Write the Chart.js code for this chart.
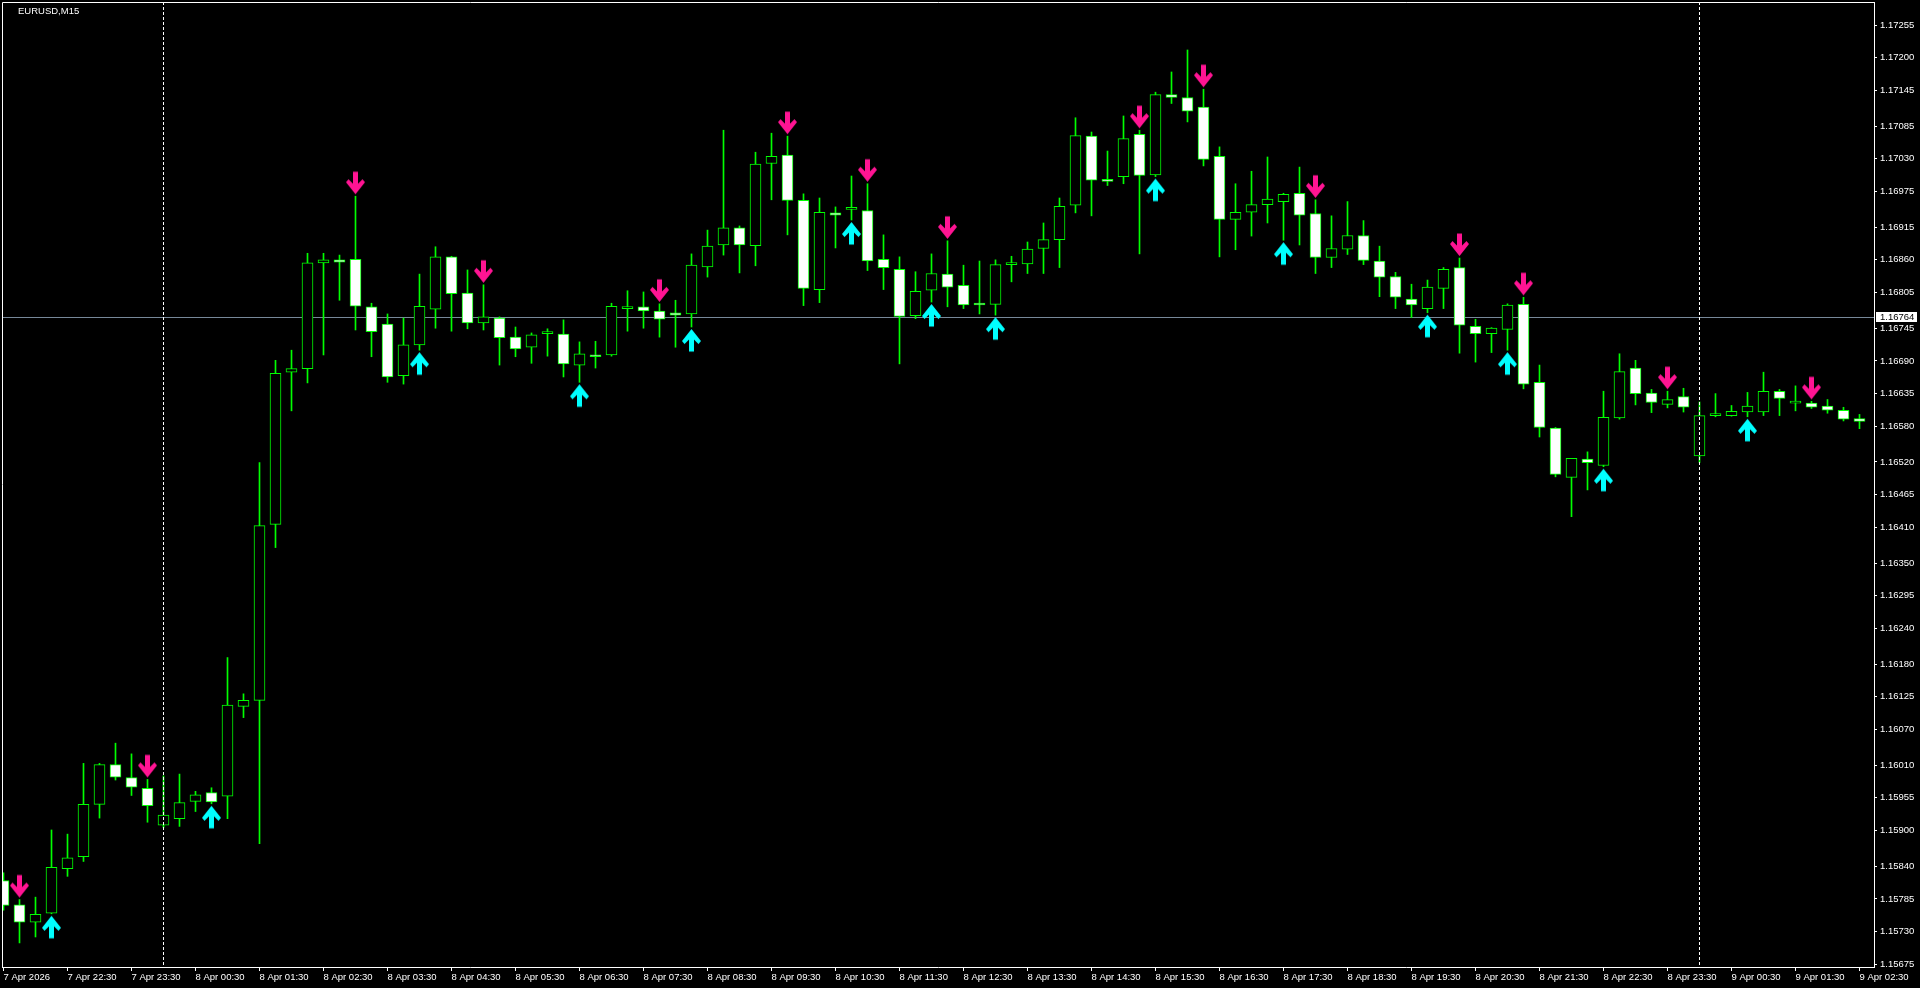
<!DOCTYPE html>
<html>
<head>
<meta charset="utf-8">
<title>EURUSD,M15</title>
<script src="https://cdn.jsdelivr.net/npm/chart.js@4/dist/chart.umd.min.js"></script>
<style>
  html, body { margin: 0; padding: 0; background: #000; }
  #wrap { position: relative; width: 1920px; height: 988px; }
</style>
</head>
<body>
<div id="wrap"><canvas id="chart"></canvas></div>
<script>
// ---------------------------
// Data (EURUSD M15)
// ---------------------------
const symbolTitle = 'EURUSD,M15';
const currentPrice = 1.16764;

const xTickLabels = [
  '7 Apr 2026', '7 Apr 22:30', '7 Apr 23:30',
  '8 Apr 00:30', '8 Apr 01:30', '8 Apr 02:30', '8 Apr 03:30', '8 Apr 04:30', '8 Apr 05:30',
  '8 Apr 06:30', '8 Apr 07:30', '8 Apr 08:30', '8 Apr 09:30', '8 Apr 10:30', '8 Apr 11:30',
  '8 Apr 12:30', '8 Apr 13:30', '8 Apr 14:30', '8 Apr 15:30', '8 Apr 16:30', '8 Apr 17:30',
  '8 Apr 18:30', '8 Apr 19:30', '8 Apr 20:30', '8 Apr 21:30', '8 Apr 22:30', '8 Apr 23:30',
  '9 Apr 00:30', '9 Apr 01:30', '9 Apr 02:30'
];

const yTickLabels = [
  1.17255, 1.17200, 1.17145, 1.17085, 1.17030, 1.16975, 1.16915, 1.16860, 1.16805, 1.16745,
  1.16690, 1.16635, 1.16580, 1.16520, 1.16465, 1.16410, 1.16350, 1.16295, 1.16240, 1.16180,
  1.16125, 1.16070, 1.16010, 1.15955, 1.15900, 1.15840, 1.15785, 1.15730, 1.15675
];

const opens = [
  1.15816, 1.15775, 1.15746, 1.15761, 1.15836, 1.15856, 1.15944, 1.16011, 1.15989, 1.15971,
  1.15909, 1.15920, 1.15949, 1.15964, 1.15958, 1.16109, 1.16119, 1.16415, 1.16671, 1.16677,
  1.16855, 1.16860, 1.16861, 1.16781, 1.16752, 1.16665, 1.16717, 1.16777, 1.16865, 1.16804,
  1.16754, 1.16762, 1.16730, 1.16713, 1.16736, 1.16735, 1.16683, 1.16700, 1.16700, 1.16778,
  1.16781, 1.16774, 1.16771, 1.16769, 1.16848, 1.16885, 1.16914, 1.16884, 1.17022, 1.17036,
  1.16960, 1.16810, 1.16939, 1.16945, 1.16943, 1.16861, 1.16844, 1.16766, 1.16809, 1.16836,
  1.16817, 1.16787, 1.16785, 1.16852, 1.16853, 1.16879, 1.16894, 1.16952, 1.17068, 1.16995,
  1.17000, 1.17071, 1.17003, 1.17138, 1.17133, 1.17117, 1.17034, 1.16928, 1.16940, 1.16953,
  1.16958, 1.16972, 1.16938, 1.16864, 1.16878, 1.16901, 1.16858, 1.16832, 1.16794, 1.16778,
  1.16812, 1.16847, 1.16748, 1.16736, 1.16743, 1.16785, 1.16654, 1.16577, 1.16494, 1.16525,
  1.16514, 1.16594, 1.16678, 1.16636, 1.16617, 1.16630, 1.16530, 1.16598, 1.16598, 1.16604,
  1.16604, 1.16639, 1.16619, 1.16619, 1.16614, 1.16607, 1.16593
];

const highs = [
  1.15829, 1.15784, 1.15788, 1.15901, 1.15894, 1.16013, 1.16013, 1.16047, 1.16029, 1.15986,
  1.15992, 1.15995, 1.15966, 1.15972, 1.16191, 1.16130, 1.16519, 1.16691, 1.16708, 1.16871,
  1.16871, 1.16868, 1.16967, 1.16787, 1.16769, 1.16762, 1.16836, 1.16882, 1.16866, 1.16843,
  1.16818, 1.16764, 1.16747, 1.16737, 1.16744, 1.16759, 1.16722, 1.16723, 1.16787, 1.16808,
  1.16806, 1.16786, 1.16792, 1.16870, 1.16910, 1.17078, 1.16917, 1.17041, 1.17073, 1.17068,
  1.16971, 1.16964, 1.16949, 1.17001, 1.16988, 1.16902, 1.16865, 1.16840, 1.16870, 1.16892,
  1.16851, 1.16858, 1.16860, 1.16866, 1.16890, 1.16922, 1.16964, 1.17099, 1.17075, 1.17043,
  1.17102, 1.17078, 1.17142, 1.17176, 1.17213, 1.17147, 1.17050, 1.16988, 1.17009, 1.17033,
  1.16972, 1.17016, 1.16961, 1.16934, 1.16958, 1.16926, 1.16883, 1.16839, 1.16819, 1.16826,
  1.16847, 1.16863, 1.16760, 1.16746, 1.16786, 1.16797, 1.16683, 1.16578, 1.16526, 1.16537,
  1.16639, 1.16702, 1.16691, 1.16642, 1.16639, 1.16644, 1.16621, 1.16635, 1.16615, 1.16637,
  1.16671, 1.16642, 1.16648, 1.16622, 1.16625, 1.16612, 1.16600
];

const lows = [
  1.15766, 1.15711, 1.15721, 1.15760, 1.15823, 1.15848, 1.15921, 1.15985, 1.15959, 1.15914,
  1.15905, 1.15907, 1.15932, 1.15945, 1.15920, 1.16090, 1.15878, 1.16376, 1.16606, 1.16653,
  1.16700, 1.16792, 1.16742, 1.16697, 1.16654, 1.16651, 1.16708, 1.16745, 1.16740, 1.16744,
  1.16742, 1.16683, 1.16697, 1.16686, 1.16698, 1.16663, 1.16654, 1.16678, 1.16698, 1.16740,
  1.16745, 1.16730, 1.16713, 1.16747, 1.16831, 1.16868, 1.16838, 1.16850, 1.16961, 1.16902,
  1.16783, 1.16788, 1.16880, 1.16927, 1.16842, 1.16810, 1.16685, 1.16761, 1.16789, 1.16781,
  1.16778, 1.16769, 1.16767, 1.16823, 1.16837, 1.16837, 1.16847, 1.16939, 1.16934, 1.16985,
  1.16988, 1.16870, 1.17000, 1.17123, 1.17092, 1.17018, 1.16865, 1.16877, 1.16900, 1.16922,
  1.16893, 1.16885, 1.16837, 1.16847, 1.16869, 1.16852, 1.16798, 1.16778, 1.16763, 1.16771,
  1.16778, 1.16703, 1.16688, 1.16704, 1.16708, 1.16643, 1.16562, 1.16495, 1.16428, 1.16473,
  1.16512, 1.16592, 1.16616, 1.16603, 1.16611, 1.16604, 1.16519, 1.16596, 1.16597, 1.16596,
  1.16598, 1.16598, 1.16606, 1.16610, 1.16602, 1.16589, 1.16576
];

const closes = [
  1.15774, 1.15746, 1.15759, 1.15838, 1.15854, 1.15944, 1.16011, 1.15990, 1.15973, 1.15942,
  1.15926, 1.15947, 1.15960, 1.15948, 1.16111, 1.16119, 1.16413, 1.16669, 1.16677, 1.16855,
  1.16860, 1.16856, 1.16782, 1.16739, 1.16663, 1.16717, 1.16782, 1.16865, 1.16803, 1.16754,
  1.16764, 1.16729, 1.16710, 1.16734, 1.16737, 1.16685, 1.16702, 1.16697, 1.16782, 1.16779,
  1.16774, 1.16760, 1.16767, 1.16851, 1.16883, 1.16914, 1.16885, 1.17021, 1.17034, 1.16960,
  1.16812, 1.16940, 1.16935, 1.16948, 1.16858, 1.16847, 1.16765, 1.16807, 1.16837, 1.16814,
  1.16784, 1.16784, 1.16852, 1.16853, 1.16878, 1.16894, 1.16950, 1.17069, 1.16994, 1.16992,
  1.17064, 1.17002, 1.17138, 1.17133, 1.17110, 1.17029, 1.16928, 1.16940, 1.16953, 1.16962,
  1.16970, 1.16935, 1.16864, 1.16879, 1.16901, 1.16859, 1.16831, 1.16797, 1.16784, 1.16814,
  1.16844, 1.16750, 1.16736, 1.16745, 1.16784, 1.16651, 1.16578, 1.16499, 1.16526, 1.16519,
  1.16595, 1.16672, 1.16635, 1.16620, 1.16625, 1.16612, 1.16598, 1.16600, 1.16605, 1.16614,
  1.16639, 1.16627, 1.16620, 1.16612, 1.16607, 1.16592, 1.16588
];

// signal arrows (bar index)
const sellSignals = [1, 9, 22, 30, 41, 49, 54, 59, 71, 75, 82, 91, 95, 104, 113];
const buySignals = [3, 13, 26, 36, 43, 53, 58, 62, 72, 80, 89, 94, 100, 109];

// period separators (bar index of 00:00)
const daySeparators = [10, 106];

// ---------------------------
// Look
// ---------------------------
const FONT = 'Liberation Sans';
const candleLine = '#00ff00';
const bullFill = '#000000';
const bearFill = '#ffffff';
const sellColor = '#ff1493';
const buyColor = '#00ffff';
const priceLineColor = '#778899';

Chart.defaults.font.family = FONT;
Chart.defaults.font.size = 9.5;
Chart.defaults.color = '#ffffff';

function makeArrow(color, down) {
    const w = 21, h = 54;
    const c = document.createElement('canvas');
    c.width = w;
    c.height = h;
    const g = c.getContext('2d');
    // shape of a down arrow, tip at (0, 22.5)
    const pts = [[-2.5, 0], [2.5, 0], [2.5, 12], [7, 7.5], [9.5, 10.5], [0, 22.5],
                 [-9.5, 10.5], [-7, 7.5], [-2.5, 12]];
    g.fillStyle = color;
    g.beginPath();
    pts.forEach(([px, py], i) => {
        const X = w / 2 + px;
        const Y = down ? (h / 2 - 2 - 22.5 + py) : (h / 2 + 2 + 22.5 - py);
        if (i) g.lineTo(X, Y); else g.moveTo(X, Y);
    });
    g.closePath();
    g.fill();
    return c;
}

const idx = opens.map((_, i) => i);
const wickData = idx.map(i => ({ x: i, y: [lows[i], highs[i]] }));
const bodyData = idx.map(i => ({ x: i, y: [opens[i], closes[i]] }));
const bodyFill = idx.map(i => (closes[i] >= opens[i] ? bullFill : bearFill));
const sellData = sellSignals.map(i => ({ x: i, y: highs[i] }));
const buyData = buySignals.map(i => ({ x: i, y: lows[i] }));

// 16 px per bar, bar 0 centred at x = 3.5
const xMin = -0.09375;
const xMax = 116.90625;
const yMin = 1.156705;
const yMax = 1.172937;

// ---------------------------
// MT4 overlay: price line, separators, frame, title
// ---------------------------
const mtOverlay = {
    id: 'mtOverlay',
    beforeDatasetsDraw(chart) {
        const { ctx, chartArea: a, scales: { y } } = chart;
        const py = Math.round(y.getPixelForValue(currentPrice)) + 0.5;
        ctx.save();
        ctx.strokeStyle = priceLineColor;
        ctx.lineWidth = 1;
        ctx.beginPath();
        ctx.moveTo(a.left, py);
        ctx.lineTo(a.right, py);
        ctx.stroke();
        ctx.restore();
    },
    afterDatasetsDraw(chart) {
        const { ctx, chartArea: a, scales: { x } } = chart;
        ctx.save();
        ctx.strokeStyle = '#ffffff';
        ctx.lineWidth = 1;
        ctx.setLineDash([3, 2]);
        daySeparators.forEach(i => {
            const px = Math.floor(x.getPixelForValue(i)) + 0.5;
            ctx.beginPath();
            ctx.moveTo(px, a.top);
            ctx.lineTo(px, a.bottom);
            ctx.stroke();
        });
        ctx.restore();
    },
    afterDraw(chart) {
        const { ctx, chartArea: a, scales: { y } } = chart;
        ctx.save();
        // top + left frame
        ctx.strokeStyle = '#ffffff';
        ctx.lineWidth = 1;
        ctx.beginPath();
        ctx.moveTo(a.left + 0.5, a.bottom);
        ctx.lineTo(a.left + 0.5, a.top + 0.5);
        ctx.lineTo(a.right, a.top + 0.5);
        ctx.stroke();

        // symbol title
        ctx.fillStyle = '#ffffff';
        ctx.font = '9.5px ' + FONT;
        ctx.textBaseline = 'middle';
        ctx.textAlign = 'left';
        ctx.fillText(symbolTitle, 18, 11);

        // current price tag
        const py = Math.round(y.getPixelForValue(currentPrice));
        ctx.fillStyle = '#ffffff';
        ctx.fillRect(a.right + 2, py - 5, 41, 10);
        ctx.fillStyle = '#000000';
        ctx.fillText(currentPrice.toFixed(5), a.right + 6, py + 0.5);
        ctx.restore();
    }
};

// ---------------------------
// Chart
// ---------------------------
new Chart(document.getElementById('chart'), {
    type: 'bar',
    data: {
        datasets: [
            {
                type: 'scatter',
                label: 'Sell',
                data: sellData,
                pointStyle: makeArrow(sellColor, true),
                order: 0
            },
            {
                type: 'scatter',
                label: 'Buy',
                data: buyData,
                pointStyle: makeArrow(buyColor, false),
                order: 0
            },
            {
                label: 'Body',
                data: bodyData,
                backgroundColor: bodyFill,
                borderColor: candleLine,
                borderWidth: 1,
                borderSkipped: false,
                barThickness: 11,
                minBarLength: 2,
                grouped: false,
                order: 1
            },
            {
                label: 'Wick',
                data: wickData,
                backgroundColor: candleLine,
                borderWidth: 0,
                barThickness: 1,
                grouped: false,
                order: 2
            }
        ]
    },
    options: {
        responsive: true,
        maintainAspectRatio: false,
        devicePixelRatio: 1,
        animation: false,
        events: [],
        layout: { autoPadding: false, padding: { left: 2, top: 2, right: 0, bottom: 0 } },
        plugins: { legend: { display: false }, tooltip: { enabled: false } },
        scales: {
            x: {
                type: 'linear',
                min: xMin,
                max: xMax,
                offset: false,
                grid: { display: true, drawOnChartArea: false, drawTicks: true, tickLength: 4, color: '#ffffff', offset: false },
                border: { display: true, color: '#ffffff' },
                ticks: {
                    color: '#ffffff',
                    autoSkip: false,
                    maxRotation: 0,
                    align: 'start',
                    padding: 1,
                    callback: (v, i) => xTickLabels[i]
                },
                afterBuildTicks: s => { s.ticks = xTickLabels.map((_, i) => ({ value: i * 4 })); },
                afterFit: s => { s.height = 21; s.paddingLeft = 0; s.paddingRight = 0; }
            },
            y: {
                type: 'linear',
                position: 'right',
                min: yMin,
                max: yMax,
                grid: { display: true, drawOnChartArea: false, drawTicks: true, tickLength: 3, color: '#ffffff' },
                border: { display: true, color: '#ffffff' },
                ticks: {
                    color: '#ffffff',
                    autoSkip: false,
                    padding: 3,
                    callback: v => Number(v).toFixed(5)
                },
                afterBuildTicks: s => { s.ticks = yTickLabels.map(v => ({ value: v })); },
                afterFit: s => { s.width = 46; s.paddingTop = 0; s.paddingBottom = 0; }
            }
        }
    },
    plugins: [mtOverlay]
});
</script>
</body>
</html>
